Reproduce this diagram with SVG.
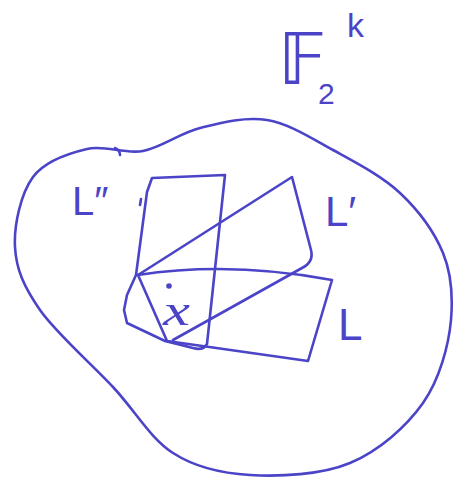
<svg xmlns="http://www.w3.org/2000/svg" width="455" height="477" viewBox="0 0 455 477">
<style>
.ink{fill:none;stroke:#4b44c8;stroke-width:2.6;stroke-linecap:round;stroke-linejoin:round}
.lbl{fill:#4b44c8;font-family:"Liberation Sans",Arial,sans-serif}
</style>
<rect width="455" height="477" fill="#ffffff"/>
<g id="space">
<path class="ink" d="M87,149 C105.3,144.7 124.2,154.5 143,151 C161.8,147.5 179.3,133.2 200,128 C220.7,122.8 244.8,116.3 267,120 C289.2,123.7 310.8,137.8 333,150 C355.2,162.2 381.7,175.8 400,193 C418.3,210.2 434.2,231.8 443,253 C451.8,274.2 453,296 451,320 C448.7,345 439.8,379.2 423,403 C406.2,426.8 378.8,451 350,463 C321.2,475 279.5,476.7 250,475 C220.5,473.3 195.8,467.7 173,453 C150.2,438.3 135.2,410.8 113,387 C90.8,363.2 56.3,333.3 40,310 C23.7,286.7 16.2,269.2 15,247 C13.8,224.8 21,193.3 33,177 C45,160.7 68.7,153.3 87,149 Z"/>
<path class="ink" d="M115,148 Q120,150 120,155"/>
</g>
<g id="title">
<text class="lbl" x="278" y="84" font-size="72"><tspan style="font-family:'DejaVu Sans',sans-serif">𝔽</tspan><tspan x="318" y="104" font-size="30">2</tspan><tspan x="347" y="37" font-size="34">k</tspan></text>
</g>
<g id="L2">
<path class="ink" d="M147,192 L152,178 L225,175 L207,344 Q203,351 193,348 L165,341 L127,323 L124,310 L127,295 L136,275 Z"/>
<path class="ink" d="M141,199 L140,205"/>
<text class="lbl" x="72" y="215" font-size="40">L″</text>
</g>
<g id="L1">
<path class="ink" d="M138,275 L292,177 L311,250 Q314,262 302,268 L173,340"/>
<text class="lbl" x="325" y="226" font-size="42">L′</text>
</g>
<g id="L0">
<path class="ink" d="M138,275 Q230,261 332,280 L308,361 L167,341 Z"/>
<text class="lbl" x="338" y="340" font-size="44">L</text>
</g>
<g id="point">
<circle cx="169" cy="286" r="2.8" fill="#4b44c8"/>
<text class="lbl" x="163" y="325" font-size="44" font-style="italic" textLength="27" lengthAdjust="spacingAndGlyphs" style="font-family:'Liberation Serif',serif">x</text>
</g>
<g id="connectors"/>
</svg>
